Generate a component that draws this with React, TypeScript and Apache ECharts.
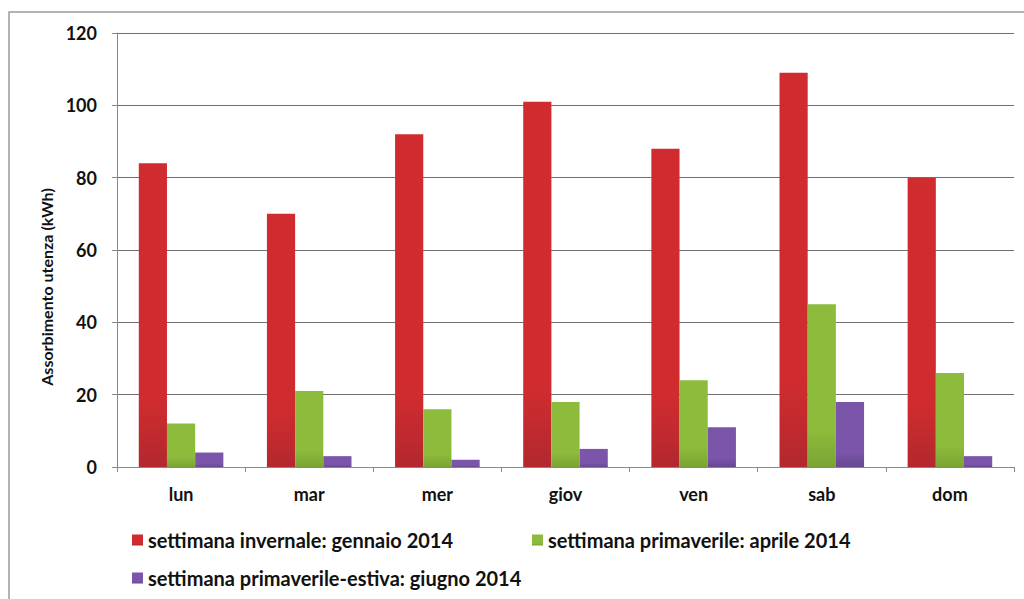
import React, { useEffect, useRef } from "react";
import * as echarts from "echarts";

const categories = ["lun", "mar", "mer", "giov", "ven", "sab", "dom"];
const winter = [84, 70, 92, 101, 88, 109, 80];
const spring = [12, 21, 16, 18, 24, 45, 26];
const summer = [4, 3, 2, 5, 11, 18, 3];
const seriesNames = [
  "settimana invernale: gennaio 2014",
  "settimana primaverile: aprile 2014",
  "settimana primaverile-estiva: giugno 2014",
];
const yAxisName = "Assorbimento utenza (kWh)";
const yTicks = { min: 0, max: 120, interval: 20 };

const FONT = "Lato, 'Open Sans', sans-serif";

function grad(top: string, bottom: string) {
  return new echarts.graphic.LinearGradient(0, 0, 0, 1, [
    { offset: 0, color: top },
    { offset: 0.78, color: top },
    { offset: 1, color: bottom },
  ]);
}

export default function App() {
  const ref = useRef<HTMLDivElement>(null);
  useEffect(() => {
    if (!ref.current) return;
    const chart = echarts.init(ref.current, null, { renderer: "svg" });
    const legendText = { fontFamily: FONT, fontWeight: "bold" as const, fontSize: 20, color: "#111" };
    const legendCommon = {
      itemWidth: 11,
      itemHeight: 11,
      icon: "rect",
      padding: 0,
      textStyle: legendText,
    };
    chart.setOption({
      animation: false,
      backgroundColor: "#ffffff",
      graphic: [
        {
          type: "rect",
          shape: { x: 9, y: 12, width: 1100, height: 700 },
          style: { fill: "none", stroke: "#9a9a9a", lineWidth: 1.5 },
          silent: true,
        },
        {
          type: "text",
          x: 46,
          y: 287,
          rotation: Math.PI / 2,
          style: {
            text: yAxisName,
            font: "bold 16px Lato",
            fill: "#111",
            align: "center",
            verticalAlign: "middle",
          },
          silent: true,
        },
      ],
      grid: { left: 117, right: 10, top: 33, bottom: 132, containLabel: false },
      legend: [
        { ...legendCommon, data: [seriesNames[0]], left: 132, top: 530 },
        { ...legendCommon, data: [seriesNames[1]], left: 532, top: 530 },
        { ...legendCommon, data: [seriesNames[2]], left: 132, top: 568 },
      ],
      xAxis: {
        type: "category",
        data: categories,
        axisLine: { lineStyle: { color: "#888", width: 1 } },
        axisTick: { show: true, length: 5, lineStyle: { color: "#888" } },
        axisLabel: {
          fontFamily: FONT,
          fontWeight: "bold",
          fontSize: 18,
          color: "#111",
          margin: 18,
        },
      },
      yAxis: {
        type: "value",
        min: yTicks.min,
        max: yTicks.max,
        interval: yTicks.interval,
        axisLine: { show: true, lineStyle: { color: "#888", width: 1 } },
        axisTick: { show: true, length: 5, lineStyle: { color: "#888" } },
        splitLine: { lineStyle: { color: "#707070", width: 1 } },
        axisLabel: {
          fontFamily: FONT,
          fontWeight: "bold",
          fontSize: 18,
          color: "#111",
          margin: 20,
        },
      },
      series: [
        {
          name: seriesNames[0],
          type: "bar",
          data: winter,
          barGap: "0%",
          barCategoryGap: "34%",
          itemStyle: { color: grad("#d02c2f", "#b2282e") },
        },
        {
          name: seriesNames[1],
          type: "bar",
          data: spring,
          itemStyle: { color: grad("#8dbb3b", "#79a434") },
        },
        {
          name: seriesNames[2],
          type: "bar",
          data: summer,
          itemStyle: { color: grad("#7a55aa", "#66488f") },
        },
      ],
    });
    return () => chart.dispose();
  }, []);
  return (
    <div
      ref={ref}
      style={{ position: "fixed", left: 0, top: 0, width: 1024, height: 599 }}
    />
  );
}
